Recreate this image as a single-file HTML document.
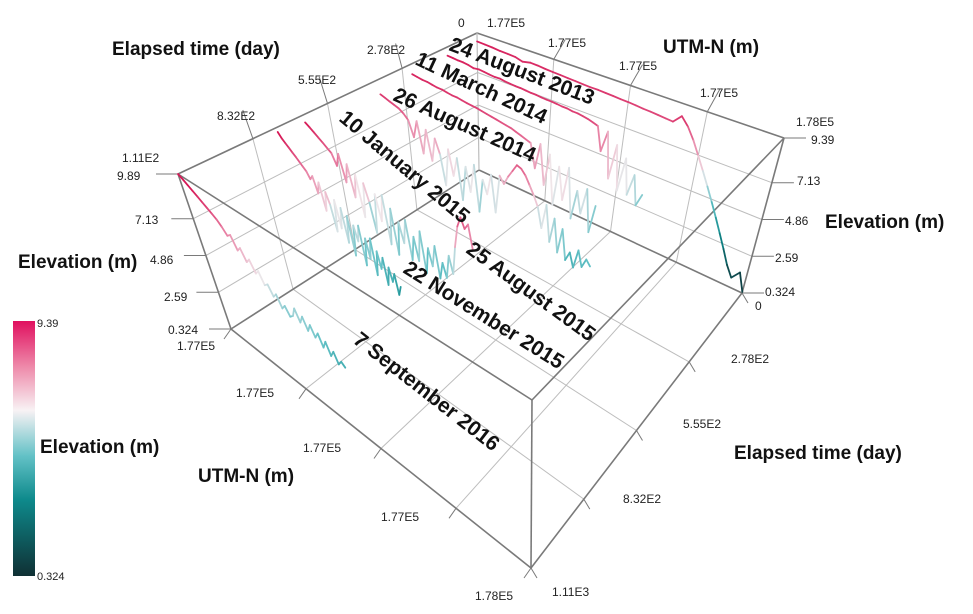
<!DOCTYPE html>
<html><head><meta charset="utf-8"><style>
html,body{margin:0;padding:0;background:#fff;}
svg{display:block;font-family:"Liberation Sans",sans-serif;}
.tk{font-size:12px;fill:#222;}
.ax{font-size:19px;font-weight:bold;fill:#111;}
.sl{font-size:21px;font-weight:bold;fill:#111;}
</style></head><body>
<svg id="chart" width="973" height="614" viewBox="0 0 973 614" xmlns="http://www.w3.org/2000/svg">
<defs><linearGradient id="cb" x1="0" y1="1" x2="0" y2="0">
<stop offset="0" stop-color="#0f3034"/><stop offset="0.3" stop-color="#0e8a8c"/><stop offset="0.47" stop-color="#62c1c6"/>
<stop offset="0.65" stop-color="#f8f2f4"/><stop offset="0.82" stop-color="#ee8aaa"/><stop offset="1" stop-color="#e0105f"/></linearGradient></defs>
<g id="grid"></g>
<g id="series"></g>
<g id="labels">
<text class="ax" x="112" y="55">Elapsed time (day)</text>
<text class="ax" x="663" y="53">UTM-N (m)</text>
<text class="ax" x="825" y="228">Elevation (m)</text>
<text class="ax" x="18" y="268">Elevation (m)</text>
<text class="ax" x="734" y="459">Elapsed time (day)</text>
<text class="ax" x="198" y="482">UTM-N (m)</text>
<text class="ax" x="40" y="453">Elevation (m)</text>
<text class="tk" x="122" y="162">1.11E2</text>
<text class="tk" x="117" y="180">9.89</text>
<text class="tk" x="135" y="224">7.13</text>
<text class="tk" x="150" y="264">4.86</text>
<text class="tk" x="164" y="301">2.59</text>
<text class="tk" x="168" y="334">0.324</text>
<text class="tk" x="177" y="350">1.77E5</text>
<text class="tk" x="217" y="120">8.32E2</text>
<text class="tk" x="298" y="84">5.55E2</text>
<text class="tk" x="367" y="54">2.78E2</text>
<text class="tk" x="458" y="27">0</text>
<text class="tk" x="487" y="27">1.77E5</text>
<text class="tk" x="548" y="47">1.77E5</text>
<text class="tk" x="619" y="70">1.77E5</text>
<text class="tk" x="700" y="97">1.77E5</text>
<text class="tk" x="796" y="126">1.78E5</text>
<text class="tk" x="811" y="144">9.39</text>
<text class="tk" x="797" y="185">7.13</text>
<text class="tk" x="785" y="225">4.86</text>
<text class="tk" x="775" y="262">2.59</text>
<text class="tk" x="765" y="296">0.324</text>
<text class="tk" x="755" y="310">0</text>
<text class="tk" x="236" y="397">1.77E5</text>
<text class="tk" x="303" y="452">1.77E5</text>
<text class="tk" x="381" y="521">1.77E5</text>
<text class="tk" x="475" y="600">1.78E5</text>
<text class="tk" x="552" y="596">1.11E3</text>
<text class="tk" x="623" y="503">8.32E2</text>
<text class="tk" x="683" y="428">5.55E2</text>
<text class="tk" x="731" y="363">2.78E2</text>
<rect x="13" y="321" width="22" height="255" fill="url(#cb)"/>
<text class="tk" x="37" y="327" style="font-size:11px">9.39</text>
<text class="tk" x="37" y="580" style="font-size:11px">0.324</text>
<text class="sl" transform="translate(448,50) rotate(21)">24 August 2013</text>
<text class="sl" transform="translate(414,64) rotate(25)">11 March 2014</text>
<text class="sl" transform="translate(392,100) rotate(24)">26 August 2014</text>
<text class="sl" transform="translate(338,120) rotate(40)">10 January 2015</text>
<text class="sl" transform="translate(465,252) rotate(36)">25 August 2015</text>
<text class="sl" transform="translate(402,272) rotate(32)">22 November 2015</text>
<text class="sl" transform="translate(352,342) rotate(38)">7 September 2016</text>
</g>
</svg>
<script>
// ---- data ----
const surveyDays = [0, 111, 244, 366, 644, 744, 1110];
const utmStart = [177000, 177000, 177000, 177000, 177000, 177000, 177000];
const utmEnd = [178000, 177660, 177600, 177680, 177500, 177330, 177420];
const elev2013 = [9.3,9.28,9.25,9.2,9.18,9.15,9.0,9.12,9.1,9.05,9.02,9.0,8.97,8.95,8.92,8.9,8.9,8.87,8.85,8.82,8.8,8.77,8.72,8.7,8.66,8.62,8.58,9.1,8.6,7.9,7.1,6.3,5.5,4.7,3.9,3.1,2.3,1.5,0.9,1.4,0.4];
const elev2014Mar = [9.3,9.28,9.25,9.25,9.2,9.12,9.18,9.15,9.1,9.08,9.1,9.05,9.02,9.0,9.0,8.98,8.95,8.95,8.92,8.9,8.9,8.88,8.85,8.85,8.8,8.8,8.75,8.7,8.6,8.5,7.0,8.4,5.5,7.8,5.0,7.2,5.0,6.4,4.6,5.4];
const elev2014Aug = [9.2,9.15,9.1,9.1,9.05,9.0,9.0,8.95,8.9,8.9,8.85,8.8,8.78,8.75,8.7,8.65,8.6,8.55,8.5,8.45,8.4,8.3,8.2,8.1,8.0,6.5,8.2,5.7,7.8,4.7,7.3,5.3,7.5,4.4,6.3,5.0,6.7,4.1,5.9];
const elev2015Jan = [8.9,8.8,8.7,8.6,8.5,8.3,8.0,7.0,8.2,6.2,7.9,6.0,7.6,6.7,4.8,7.3,5.7,7.0,4.4,6.7,5.2,7.1,4.2,6.4,5.6,7.0,4.7,7.2,6.8,7.4,7.9,8.4,8.3,8.0,7.5,7.0,6.4,5.2,6.8,4.6,6.2,4.2,5.8,4.0,4.6,3.8,5.0,4.1,4.7,4.4];
const elev2015Aug = [9.4,9.2,9.0,8.8,8.6,8.4,8.2,7.5,8.4,6.7,8.0,6.0,7.6,5.0,7.3,6.2,4.4,7.0,5.4,7.2,4.2,6.6,3.8,6.0,4.8,6.4,4.0,5.6,4.2,6.2,3.7,5.4,4.4,5.8,3.9,5.0,4.2,5.7,4.7,6.5,7.9,8.6,8.0,8.4,7.0];
const elev2015Nov = [9.6,9.3,9.1,8.9,8.7,8.5,8.3,8.1,7.9,7.5,7.8,6.8,7.6,5.9,7.2,6.5,4.9,7.0,5.3,6.7,4.6,6.4,4.0,6.0,5.1,6.2,3.8,5.6,4.4,5.8,3.6,5.2,4.2,5.0,3.4,4.6,3.8,4.4,3.2,3.8];
const elev2016 = [9.89,9.7,9.5,9.3,9.1,8.9,8.7,8.5,8.3,8.0,7.6,7.8,7.0,7.3,6.6,6.9,6.2,6.5,5.8,6.0,5.4,5.7,5.0,5.3,4.8,5.0,5.6,4.9,5.4,4.7,5.2,4.6,5.0,4.3,4.8,4.1,4.5,3.9,4.2,4.0];
const timeTicks = [0, 278, 555, 832, 1110];
const utmTicks = [177000, 177250, 177500, 177750, 178000];
const elevTicks = [0.324, 2.59, 4.86, 7.13, 9.89];

// ---- axes / projection ----
const T0=0,T1=1110,U0=177000,U1=178000,Z0=0.324,Z1=9.89;
const C={tB:[477,33],tL:[178,174],tR:[784,138],tF:[532,400],bB:[479,170],bL:[231,329],bR:[742,293],bF:[531,568]};
function bil(a,b,c,d,t,u){return [(1-t)*(1-u)*a[0]+t*(1-u)*b[0]+(1-t)*u*c[0]+t*u*d[0],(1-t)*(1-u)*a[1]+t*(1-u)*b[1]+(1-t)*u*c[1]+t*u*d[1]];}
function proj(day,utm,z){
  const t=(day-T0)/(T1-T0),u=(utm-U0)/(U1-U0),w=(z-Z0)/(Z1-Z0);
  const top=bil(C.tB,C.tL,C.tR,C.tF,t,u),bot=bil(C.bB,C.bL,C.bR,C.bF,t,u);
  return [bot[0]+(top[0]-bot[0])*w,bot[1]+(top[1]-bot[1])*w];
}
const NS='http://www.w3.org/2000/svg';
function line(g,p,q,col,w){const l=document.createElementNS(NS,'line');
  l.setAttribute('x1',p[0].toFixed(1));l.setAttribute('y1',p[1].toFixed(1));l.setAttribute('x2',q[0].toFixed(1));l.setAttribute('y2',q[1].toFixed(1));
  l.setAttribute('stroke',col);l.setAttribute('stroke-width',w);g.appendChild(l);return l;}
const grid=document.getElementById('grid');
const GC='#bdbdbd',EC='#7a7a7a';
timeTicks.slice(1,-1).forEach(d=>{const l=line(grid,proj(d,U0,Z0),proj(d,U0,Z1),GC,1);


const f=line(grid,proj(d,U0,Z0),proj(d,U1,Z0),GC,1);


const k=line(grid,proj(d,U0,Z1),proj(d-40,U0-50,Z1+0.9),EC,1);

});
utmTicks.slice(1,-1).forEach(v=>{const l=line(grid,proj(T0,v,Z0),proj(T0,v,Z1),GC,1);


const f=line(grid,proj(T0,v,Z0),proj(T1,v,Z0),GC,1);


const k=line(grid,proj(T0,v,Z1),proj(T0-40,v,Z1+0.9),EC,1);

});
elevTicks.slice(1,-1).forEach(z=>{const a=line(grid,proj(T1,U0,z),proj(T0,U0,z),GC,1);


const b=line(grid,proj(T0,U0,z),proj(T0,U1,z),GC,1);

});
elevTicks.forEach(z=>{const p=proj(T1,U0,z);const a=line(grid,p,[p[0]-22,p[1]],EC,1);


const q=proj(T0,U1,z);const b=line(grid,q,[q[0]+22,q[1]],EC,1);

});
timeTicks.forEach(d=>{const p=proj(d,U1,Z0);const k=line(grid,p,[p[0]+6,p[1]+10],EC,1);

});
utmTicks.forEach(v=>{const p=proj(T1,v,Z0);const k=line(grid,p,[p[0]-7,p[1]+10],EC,1);

});
const edges=[[[T0,U0,Z1],[T1,U0,Z1]],[[T0,U0,Z1],[T0,U1,Z1]],[[T1,U0,Z1],[T1,U1,Z1]],[[T0,U1,Z1],[T1,U1,Z1]],
[[T1,U0,Z0],[T1,U0,Z1]],[[T0,U1,Z0],[T0,U1,Z1]],[[T1,U1,Z0],[T1,U1,Z1]],
[[T1,U0,Z0],[T1,U1,Z0]],[[T0,U1,Z0],[T1,U1,Z0]],[[T0,U0,Z0],[T1,U0,Z0]],[[T0,U0,Z0],[T0,U1,Z0]]];
edges.forEach(e=>{const l=line(grid,proj(...e[0]),proj(...e[1]),EC,1.6);

});
const bv=line(grid,proj(T0,U0,Z0),proj(T0,U0,Z1),GC,1.2);



// ---- color scale ----
const stops=[[0,[15,48,52]],[0.3,[14,138,140]],[0.47,[98,193,198]],[0.65,[240,232,235]],[0.82,[232,130,165]],[1,[214,24,86]]];
function color(z){let f=(z-Z0)/(9.39-Z0);f=Math.max(0,Math.min(1,f));
 for(let i=1;i<stops.length;i++){if(f<=stops[i][0]){const a=stops[i-1],b=stops[i],k=(f-a[0])/(b[0]-a[0]);
  return 'rgb('+a[1].map((c,j)=>Math.round(c+(b[1][j]-c)*k)).join(',')+')';}}
 return 'rgb(214,24,86)';}

// ---- series ----
const allElev=[elev2013,elev2014Mar,elev2014Aug,elev2015Jan,elev2015Aug,elev2015Nov,elev2016];
const sg=document.getElementById('series');
allElev.forEach((arr,si)=>{
  const g=document.createElementNS(NS,'g');
  
  
  sg.appendChild(g);
  const n=arr.length;
  for(let i=0;i<n-1;i++){
    const ua=utmStart[si]+(utmEnd[si]-utmStart[si])*i/(n-1);
    const ub=utmStart[si]+(utmEnd[si]-utmStart[si])*(i+1)/(n-1);
    const l=line(g,proj(surveyDays[si],ua,arr[i]),proj(surveyDays[si],ub,arr[i+1]),color((arr[i]+arr[i+1])/2),1.8);
    l.setAttribute('stroke-linecap','round');
    
    
  }
});
</script>
</body></html>
